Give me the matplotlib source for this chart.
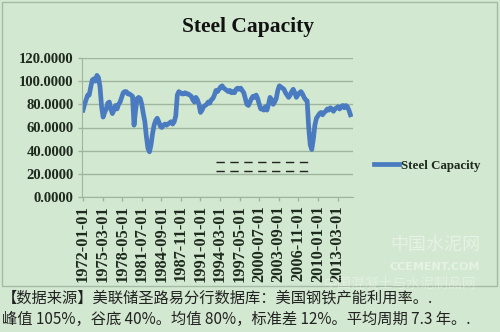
import matplotlib.pyplot as plt
from matplotlib.patches import Rectangle
from matplotlib.lines import Line2D

# quarterly values, 1972Q1 .. 2015Q2
capacity = [
    75, 80, 84, 88,      # 1972
    88, 95, 101, 102,    # 1973
    100, 105, 103, 95,   # 1974
    78, 69, 73, 76,      # 1975
    81, 82, 76, 72,      # 1976
    75, 79, 76, 80,      # 1977
    82, 86, 90, 91,      # 1978
    91, 89, 89, 88,      # 1979
    87, 62, 75, 85,      # 1980
    86, 85, 80, 72,      # 1981
    65, 52, 42, 39,      # 1982
    45, 55, 62, 66,      # 1983
    68, 65, 61, 60,      # 1984
    62, 63, 62, 63,      # 1985
    64, 65, 63, 65,      # 1986
    70, 88, 91, 90,      # 1987
    89, 89, 90, 89,      # 1988
    89, 88, 87, 84,      # 1989
    82, 86, 84, 80,      # 1990
    73, 75, 78, 79,      # 1991
    80, 82, 81, 84,      # 1992
    85, 88, 92, 91,      # 1993
    93, 95, 96, 94,      # 1994
    93, 92, 91, 92,      # 1995
    90, 91, 90, 93,      # 1996
    94, 93, 94, 92,      # 1997
    90, 85, 80, 79,      # 1998
    82, 85, 87, 86,      # 1999
    88, 85, 80, 76,      # 2000
    76, 75, 78, 75,      # 2001
    80, 86, 84, 80,      # 2002
    82, 85, 92, 96,      # 2003
    95, 94, 93, 90,      # 2004
    88, 86, 88, 91,      # 2005
    93, 90, 86, 88,      # 2006
    90, 91, 89, 86,      # 2007
    84, 83, 60, 45,      # 2008
    41, 50, 62, 68,      # 2009
    70, 72, 73, 71,      # 2010
    73, 74, 76, 75,      # 2011
    77, 76, 74, 76,      # 2012
    77, 78, 76, 78,      # 2013
    79, 77, 79, 78,      # 2014
    75, 71,              # 2015
]
months = [3 * i for i in range(len(capacity))]

tick_labels = ["1972-01-01", "1975-03-01", "1978-05-01", "1981-07-01",
               "1984-09-01", "1987-11-01", "1991-01-01", "1994-03-01",
               "1997-05-01", "2000-07-01", "2003-09-01", "2006-11-01",
               "2010-01-01", "2013-03-01"]
tick_pos = [38 * i for i in range(len(tick_labels))]

bg = "#d2e8d0"
txt = "#1e2a1e"
serif = "Liberation Serif"

fig = plt.figure(figsize=(5.0, 3.32), dpi=100, facecolor=bg)
ax = fig.add_axes([82 / 500, 1 - 197 / 332, 271 / 500, 139 / 332])
ax.set_facecolor(bg)

ax.plot(months, capacity, color="#4a7bc0", lw=3.4, solid_joinstyle="round",
        label="Steel Capacity")

ax.set_xlim(-2, 524)
ax.set_ylim(0, 120)
ax.set_yticks(range(0, 121, 20))
ax.set_yticklabels([f"{v:.4f}" for v in range(0, 121, 20)])
ax.set_xticks(tick_pos)
ax.set_xticklabels(tick_labels, rotation=90)
ax.grid(axis="y", color="#9fb69e", lw=1)
ax.set_axisbelow(True)
for s in ["top", "right"]:
    ax.spines[s].set_visible(False)
for s in ["left", "bottom"]:
    ax.spines[s].set_color("#9fb69e")
ax.tick_params(colors="#9fb69e", length=3, width=1, pad=3)
for lab in ax.get_yticklabels():
    lab.set_color(txt)
    lab.set_fontfamily(serif)
    lab.set_fontweight("bold")
    lab.set_fontsize(10.5)
for lab in ax.get_xticklabels():
    lab.set_color(txt)
    lab.set_fontfamily(serif)
    lab.set_fontweight("bold")
    lab.set_fontsize(11.8)

fig.text(0.496, 0.918, "Steel Capacity", ha="center", va="center",
         fontfamily=serif, fontweight="bold", fontsize=15.5, color="#111")

leg = ax.legend(loc="center left", bbox_to_anchor=(1.035, 0.225), frameon=False,
                handlelength=1.9, handletextpad=0.15,
                prop={"family": serif, "weight": "bold", "size": 9.3})
for t in leg.get_texts():
    t.set_color(txt)

# dashed marks in the middle of the chart
for yy in [162, 171]:
    fig.add_artist(Line2D([216 / 500, 310 / 500], [1 - yy / 332, 1 - yy / 332],
                          transform=fig.transFigure, color="#222", lw=1,
                          linestyle=(0, (6, 4))))

# chart frame
fig.patches.append(Rectangle((0.004, 1 - 286 / 332), 0.99, 284 / 332,
                             transform=fig.transFigure, fill=False,
                             ec="#a5bba4", lw=1))

# watermark
fig.text(0.87, 0.262, "中国水泥网", ha="center", va="center", fontsize=13,
         color="white", alpha=0.45, fontfamily="Noto Sans CJK SC")
fig.text(0.87, 0.195, "CCEMENT.COM", ha="center", va="center", fontsize=8,
         color="white", alpha=0.45, fontweight="bold")
fig.text(0.80, 0.146, "中国混凝土与水泥制品网", ha="center", va="center", fontsize=10,
         color="white", alpha=0.35, fontfamily="Noto Sans CJK SC")

cjk = ["Noto Sans CJK SC", "DejaVu Sans"]
fig.text(0.004, 1 - 298 / 332, "【数据来源】美联储圣路易分行数据库：美国钢铁产能利用率。.",
         fontsize=11, color="#222", va="center", family=cjk)
fig.text(0.004, 1 - 319 / 332, "峰值 105%，谷底 40%。均值 80%，标准差 12%。平均周期 7.3 年。.",
         fontsize=11, color="#222", va="center", family=cjk)

fig.savefig("out.png", dpi=100, facecolor=bg)
